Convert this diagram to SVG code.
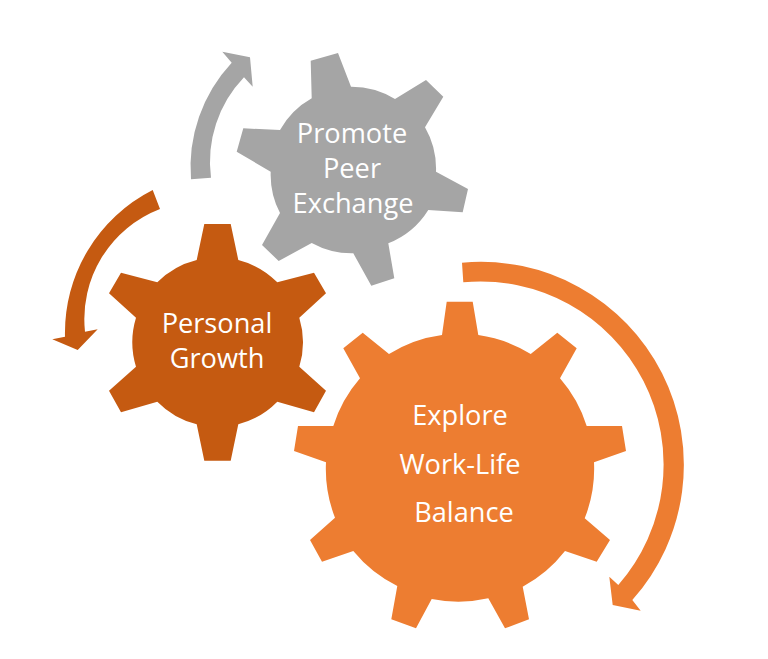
<svg xmlns="http://www.w3.org/2000/svg" width="768" height="659" viewBox="0 0 768 659">
<style>
.lbl{font-family:"Open Sans","Noto Sans","Liberation Sans",sans-serif;font-size:27.2px;fill:#fff;text-anchor:middle}
.gray{fill:#A5A5A5}.brown{fill:#C55A11}.orange{fill:#ED7D31}
</style>
<rect width="768" height="659" fill="#fff"/>
<g id="connectors">
<path id="arrow-gray" class="gray" d="M191 179.3A153 153 0 0 1 231.7 62.7L222.3 51.7L250 57.3L252.7 86.7L244 77.3A122 122 0 0 0 211 177.7Z"/>
<path id="arrow-brown" class="brown" d="M152.7 190A160 160 0 0 0 65 336.7L52.3 339.3L77.7 350L97.7 329.3L85 331.7A118 118 0 0 1 160 209Z"/>
<path id="arrow-orange" class="orange" d="M462 262.7A203 203 0 0 1 632.3 600L640.7 610.7L612.7 605L609.3 576.7L618.3 585A183 183 0 0 0 463.3 282.3Z"/>
</g>
<g id="node-peer">
<path class="gray" d="M311.7 98.3L310.7 60.7L338 53L351 86.7A83 83 0 0 1 395 99L426 80L443.3 96.7L425 127.3A83 83 0 0 1 436 171.7L468 189L462.7 212.3L428.3 210A83 83 0 0 1 388.3 243.3L394.3 278.3L371.3 285.7L353.3 253.3A83 83 0 0 1 311.7 243L278.7 261L262 245L280 213A83 83 0 0 1 270.7 171.7L236.7 151.7L243.3 128.3L280 130A83 83 0 0 1 311.7 98.3Z"/>
<text class="lbl" x="352" y="143">Promote</text>
<text class="lbl" x="352" y="178">Peer</text>
<text class="lbl" x="353" y="213">Exchange</text>
</g>
<g id="node-growth">
<path class="brown" d="M196.7 260L204.3 224L230.7 224L238.3 260A84 84 0 0 1 277.3 282.3L314 272.7L326 293.3L299.3 317.7A84 84 0 0 1 299.3 366.7L326 390.7L314 412.3L277.3 401.7A84 84 0 0 1 238.3 424.3L230.7 460.7L204.3 460.7L196.7 424.3A84 84 0 0 1 157.3 401.7L121 412.3L109 390.7L136 366.7A84 84 0 0 1 136 317.7L109 293.3L121 272.7L157.3 282.3A84 84 0 0 1 196.7 260Z"/>
<text class="lbl" x="217" y="333">Personal</text>
<text class="lbl" x="217" y="368">Growth</text>
</g>
<g id="node-balance">
<path class="orange" d="M442 335L446.7 301.7L472.7 301.7L478.3 335A134 134 0 0 1 530.7 354L557.3 332.7L576.7 348.3L560 378.3A134 134 0 0 1 586.7 426L622 426L626 451L594 462.3A134 134 0 0 1 584.7 518.3L610 540L596.7 561.7L565 551A134 134 0 0 1 522.7 586.7L529 619.3L505 628.3L488.3 598.3A134 134 0 0 1 431.7 599L416 628.3L391.3 619.3L397.3 586A134 134 0 0 1 353.3 551L322 561.7L310 540L335 517.7A134 134 0 0 1 326 462.3L294 451L298 426L333.3 426A134 134 0 0 1 360 378.3L343.3 348.3L362.7 332.7L389 354A134 134 0 0 1 442 335Z"/>
<text class="lbl" x="460" y="425">Explore</text>
<text class="lbl" x="460" y="474">Work-Life</text>
<text class="lbl" x="464" y="522">Balance</text>
</g>
</svg>
